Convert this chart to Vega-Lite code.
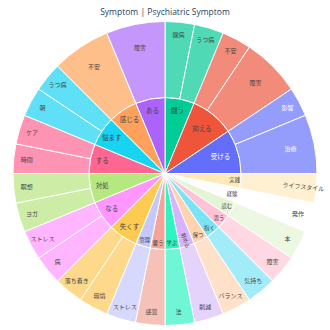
{
  "$schema": "https://vega.github.io/schema/vega-lite/v6.json",
  "autosize": {"type": "fit", "contains": "padding"},
  "width": 330,
  "height": 330,
  "padding": {"top": 10, "bottom": 5, "left": 0, "right": 0},
  "title": {"text": "Symptom | Psychiatric Symptom", "fontSize": 8.5, "font": "Open Sans", "fontWeight": "normal", "color": "#2a3f5f", "offset": 3},
  "config": {"view": {"stroke": null}},
  "data": {"values": [
    {"i": 1, "parent": "闘う", "label": "闘病", "value": 1},
    {"i": 2, "parent": "闘う", "label": "うつ病", "value": 1},
    {"i": 3, "parent": "抑える", "label": "不安", "value": 1},
    {"i": 4, "parent": "抑える", "label": "障害", "value": 2},
    {"i": 5, "parent": "受ける", "label": "影響", "value": 1},
    {"i": 6, "parent": "受ける", "label": "治療", "value": 2},
    {"i": 7, "parent": "実践", "label": "ライフスタイル", "value": 1},
    {"i": 8, "parent": "経験", "label": "発作", "value": 1},
    {"i": 9, "parent": "読む", "label": "本", "value": 1},
    {"i": 10, "parent": "思う", "label": "障害", "value": 1},
    {"i": 11, "parent": "抱く", "label": "気持ち", "value": 1},
    {"i": 12, "parent": "保つ", "label": "バランス", "value": 1},
    {"i": 13, "parent": "努める", "label": "削減", "value": 1},
    {"i": 14, "parent": "学ぶ", "label": "法", "value": 1},
    {"i": 15, "parent": "襲う", "label": "感覚", "value": 1},
    {"i": 16, "parent": "管理", "label": "ストレス", "value": 1},
    {"i": 17, "parent": "失くす", "label": "環境", "value": 1},
    {"i": 18, "parent": "失くす", "label": "落ち着き", "value": 1},
    {"i": 19, "parent": "なる", "label": "病", "value": 1},
    {"i": 20, "parent": "なる", "label": "ストレス", "value": 1},
    {"i": 21, "parent": "対処", "label": "ヨガ", "value": 1},
    {"i": 22, "parent": "対処", "label": "瞑想", "value": 1},
    {"i": 23, "parent": "する", "label": "時間", "value": 1},
    {"i": 24, "parent": "する", "label": "ケア", "value": 1},
    {"i": 25, "parent": "悩ます", "label": "朝", "value": 1},
    {"i": 26, "parent": "悩ます", "label": "うつ病", "value": 1},
    {"i": 27, "parent": "感じる", "label": "不安", "value": 2},
    {"i": 28, "parent": "ある", "label": "障害", "value": 2}
  ]},
  "resolve": {"scale": {"color": "independent", "radius": "independent", "size": "independent"}},
  "layer": [
    {
      "transform": [{"aggregate": [{"op": "sum", "field": "value", "as": "total"}, {"op": "min", "field": "i", "as": "ord"}], "groupby": ["parent"]}],
      "mark": {"type": "arc", "radius": 76, "radius2": 0, "stroke": "white", "strokeWidth": 1},
      "encoding": {
        "theta": {"field": "total", "type": "quantitative", "stack": true},
        "order": {"field": "ord", "type": "quantitative"},
        "color": {"field": "parent", "type": "nominal", "legend": null,
          "scale": {"domain": ["闘う","抑える","受ける","実践","経験","読む","思う","抱く","保つ","努める","学ぶ","襲う","管理","失くす","なる","対処","する","悩ます","感じる","ある"],
                    "range": ["#00cc96","#ef553b","#636efa","#fee9b8","#fdfdfd","#e3f5d4","#ffc2d6","#7ae3f6","#ffd2b0","#d7b4fb","#2ff3c0","#f4a498","#c4c8fc","#fecb52","#ff97ff","#b6e880","#ff6692","#19d3f3","#ffa15a","#ab63fa"]}}
      }
    },
    {
      "mark": {"type": "arc", "radius": 152, "radius2": 76, "stroke": "white", "strokeWidth": 1},
      "encoding": {
        "theta": {"field": "value", "type": "quantitative", "stack": true},
        "order": {"field": "i", "type": "quantitative"},
        "color": {"field": "i", "type": "nominal", "legend": null,
          "scale": {"domain": [1,2,3,4,5,6,7,8,9,10,11,12,13,14,15,16,17,18,19,20,21,22,23,24,25,26,27,28],
                    "range": ["#4fdab5","#4fdab5","#f28b79","#f28b79","#959dfc","#959dfc","#fff0d2","#ffffff","#edf8e2","#ffd8e3","#a2ecf9","#ffe0c9","#e5d3fc","#6ff6d4","#f6c1b8","#d6d8fd","#fed98b","#fed98b","#ffb5ff","#ffb5ff","#cdeda6","#cdeda6","#ff93b3","#ff93b3","#5fe0f7","#5fe0f7","#ffbf8b","#c597fc"]}}
      }
    },
    {
      "transform": [{"aggregate": [{"op": "sum", "field": "value", "as": "total"}, {"op": "min", "field": "i", "as": "ord"}], "groupby": ["parent"]}],
      "mark": {"type": "text", "font": "Noto Sans CJK JP"},
      "encoding": {
        "theta": {"field": "total", "type": "quantitative", "stack": true},
        "order": {"field": "ord", "type": "quantitative"},
        "radius": {"field": "total", "type": "quantitative", "scale": {"type": "linear", "zero": false, "domain": [1, 3], "range": [70, 58]}},
        "size": {"field": "total", "type": "quantitative", "legend": null, "scale": {"type": "linear", "zero": false, "domain": [1, 2], "range": [5.3, 6.5], "clamp": true}},
        "angle": {"condition": {"test": "datum.parent === '努める'", "value": 73}, "value": 0},
        "text": {"field": "parent"},
        "color": {"condition": {"test": "datum.parent === '受ける'", "value": "white"}, "value": "#444"}
      }
    },
    {
      "mark": {"type": "text", "font": "Noto Sans CJK JP", "fontSize": 6},
      "encoding": {
        "theta": {"field": "value", "type": "quantitative", "stack": true},
        "order": {"field": "i", "type": "quantitative"},
        "radius": {"field": "value", "type": "quantitative", "scale": {"type": "linear", "zero": false, "domain": [1, 2], "range": [139, 128]}},
        "angle": {"condition": {"test": "datum.label === 'ライフスタイル'", "value": 6}, "value": 0},
        "text": {"field": "label"},
        "color": {"condition": {"test": "datum.parent === '受ける'", "value": "white"}, "value": "#444"}
      }
    }
  ]
}
